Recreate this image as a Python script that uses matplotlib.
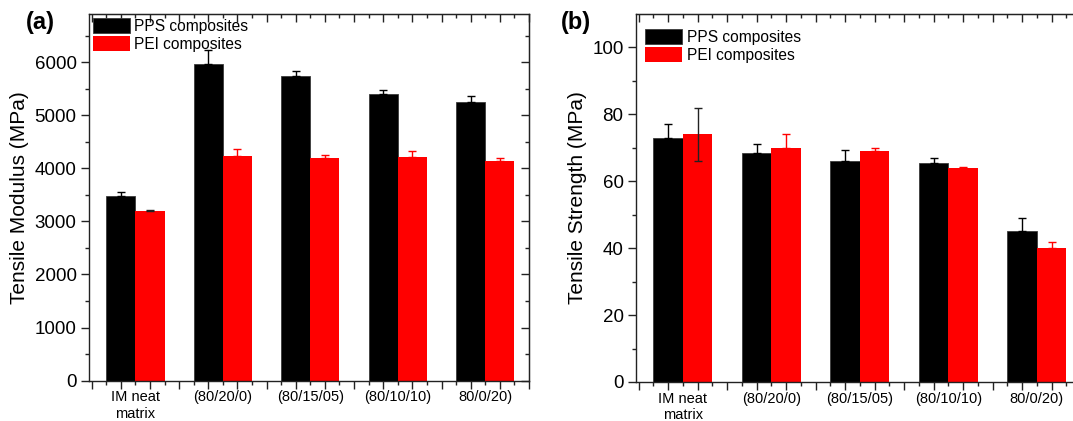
import matplotlib
matplotlib.use("Agg")
import matplotlib.pyplot as plt
import numpy as np

plt.rcParams['font.family'] = ['Liberation Sans', 'DejaVu Sans']

# categories (x labels as printed in the figure)
categories = ['IM neat\nmatrix', '(80/20/0)', '(80/15/05)', '(80/10/10)', '80/0/20)']
series_names = ['PPS composites', 'PEI composites']

# (a) tensile modulus, MPa
modulus_pps = [3480, 5960, 5730, 5390, 5250]
modulus_pps_err = [70, 260, 100, 80, 120]
modulus_pei = [3200, 4230, 4200, 4210, 4140]
modulus_pei_err = [20, 140, 45, 115, 50]

# (b) tensile strength, MPa
strength_pps = [73, 68.6, 66.2, 65.4, 45.1]
strength_pps_err = [4, 2.4, 3.1, 1.5, 3.8]
strength_pei = [74, 70, 69, 63.9, 40]
strength_pei_err = [8, 4, 0.8, 0.5, 1.7]

W, H = 1073, 421
fig = plt.figure(figsize=(W / 100, H / 100), dpi=100)

BLACK = '#000000'
RED = '#ff0000'
SPINE = '#222222'


def panel(rect, pps, pps_err, pei, pei_err, ymax, ymajor, yminor, ylabel,
          leg_anchor, two_sided_first=False):
    ax = fig.add_axes(rect)
    x = np.arange(1, len(categories) + 1)
    w = 1 / 3
    b1 = ax.bar(x - w / 2, pps, w, color=BLACK, edgecolor='#3a3a3a', linewidth=0.6,
                label=series_names[0], zorder=2)
    b2 = ax.bar(x + w / 2, pei, w, color=RED, edgecolor='none',
                label=series_names[1], zorder=2)
    # one-sided (plus) error bars
    ax.errorbar(x - w / 2, pps, yerr=[np.zeros(len(pps)), pps_err], fmt='none',
                ecolor=BLACK, elinewidth=1.0, capsize=2.6, capthick=1.0, zorder=3)
    pei_lo = np.zeros(len(pei))
    if two_sided_first:
        pei_lo[0] = pei_err[0]
    ax.errorbar(x[1:] + w / 2, pei[1:], yerr=[pei_lo[1:], pei_err[1:]], fmt='none',
                ecolor=RED, elinewidth=1.0, capsize=2.6, capthick=1.0, zorder=3)
    ax.errorbar(x[:1] + w / 2, pei[:1], yerr=[pei_lo[:1], pei_err[:1]], fmt='none',
                ecolor='#222222', elinewidth=1.0, capsize=2.6, capthick=1.0, zorder=3)

    ax.set_xlim(0.47, 5.5)
    ax.set_ylim(0, ymax)

    xmaj = 0.5 + np.arange(16) / 3
    xmin = 0.5 + 1 / 6 + np.arange(15) / 3
    ax.set_xticks(xmaj)
    ax.set_xticklabels([])
    ax.set_xticks(xmin, minor=True)
    labels = []
    for v in xmin:
        k = int(round(v))
        labels.append(categories[k - 1] if abs(v - k) < 1e-6 else '')
    ax.set_xticklabels(labels, minor=True, fontsize=10.5)

    ax.set_yticks(np.arange(0, ymax, ymajor))
    ax.set_yticks(np.arange(0, ymax, yminor), minor=True)
    ax.tick_params(axis='y', which='major', labelsize=13.5, length=6, width=1.0,
                   direction='out', color=SPINE, pad=3)
    ax.tick_params(axis='y', which='minor', length=3, width=1.0, direction='out', color=SPINE)
    ax.tick_params(axis='x', which='major', length=6, width=1.0, direction='out', color=SPINE)
    ax.tick_params(axis='x', which='minor', length=3, width=1.0, direction='out',
                   color=SPINE, pad=4)

    for s in ax.spines.values():
        s.set_color(SPINE)
        s.set_linewidth(1.0)

    # mirrored ticks pointing inward on top and right
    top = ax.secondary_xaxis('top')
    top.set_xticks(xmaj)
    top.set_xticks(xmin, minor=True)
    top.tick_params(which='major', direction='in', length=6, width=1.0, color=SPINE,
                    labeltop=False)
    top.tick_params(which='minor', direction='in', length=3, width=1.0, color=SPINE,
                    labeltop=False)
    top.spines['top'].set_color(SPINE)
    right = ax.secondary_yaxis('right')
    right.set_yticks(np.arange(0, ymax, ymajor))
    right.set_yticks(np.arange(0, ymax, yminor), minor=True)
    right.tick_params(which='major', direction='in', length=6, width=1.0, color=SPINE,
                      labelright=False)
    right.tick_params(which='minor', direction='in', length=3, width=1.0, color=SPINE,
                      labelright=False)
    right.spines['right'].set_color(SPINE)

    ax.set_ylabel(ylabel, fontsize=15, labelpad=4)

    ax.legend(handles=[b1, b2], loc='upper left', bbox_to_anchor=leg_anchor,
              frameon=False, fontsize=11.2, handlelength=2.35, handleheight=1.15,
              labelspacing=0.12, handletextpad=0.3, borderpad=0, borderaxespad=0)
    return ax


ax_a = panel([89 / W, (H - 380.7) / H, 440 / W, 366.7 / H],
             modulus_pps, modulus_pps_err, modulus_pei, modulus_pei_err,
             6905, 1000, 500, 'Tensile Modulus (MPa)', (0.009, 0.99))
# panel (b) runs past the right edge of the picture, as in the source
ax_b = panel([636 / W, (H - 382) / H, 445 / W, 368 / H],
             strength_pps, strength_pps_err, strength_pei, strength_pei_err,
             110, 20, 10, 'Tensile Strength (MPa)', (0.021, 0.96),
             two_sided_first=True)

fig.text(40 / W, 1 - 22 / H, '(a)', fontsize=17, fontweight='bold', ha='center', va='center')
fig.text(576 / W, 1 - 22 / H, '(b)', fontsize=17, fontweight='bold', ha='center', va='center')

fig.savefig('out.png', dpi=100)
